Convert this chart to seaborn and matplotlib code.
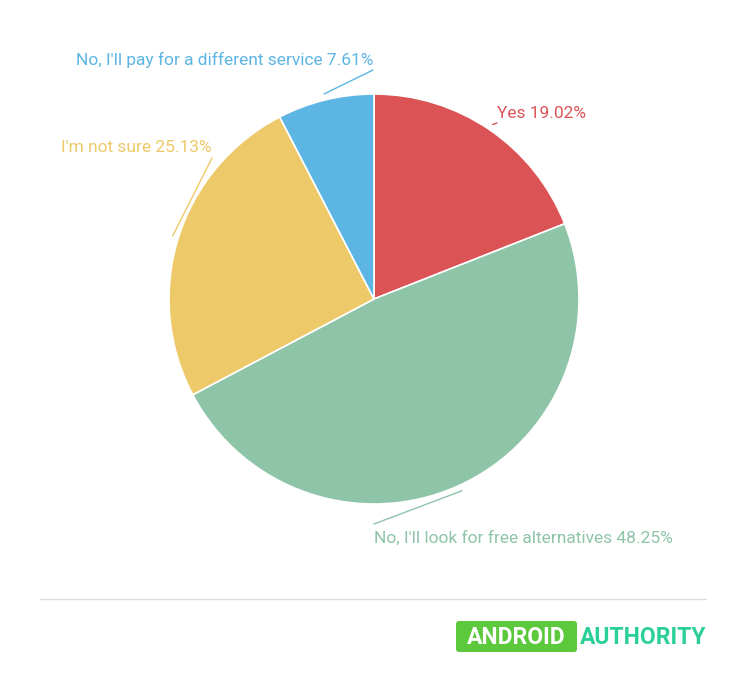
import numpy as np
import matplotlib.pyplot as plt
import seaborn as sns
from matplotlib.patches import FancyBboxPatch

sns.set_theme(style="white")
plt.rcParams['font.family'] = ['Roboto', 'DejaVu Sans']

labels = ["Yes", "No, I'll look for free alternatives", "I'm not sure",
          "No, I'll pay for a different service"]
shares = [19.02, 48.25, 25.13, 7.61]
colors = ["#dc5356", "#8ec4a8", "#edc96a", "#5db5e3"]

W, H = 747, 675
fig = plt.figure(figsize=(W / 100, H / 100), dpi=100)
ax = fig.add_axes([0, 0, 1, 1])
cx, cy, r = 374, 299, 205

# y axis is inverted (pixel coords), so start at -90 and go counterclockwise in data space
wedges, _ = ax.pie(shares, colors=colors, startangle=-90, counterclock=True,
                   center=(cx, cy), radius=r,
                   wedgeprops=dict(edgecolor="white", linewidth=1.2))
ax.set_xlim(0, W)
ax.set_ylim(H, 0)
ax.set_aspect("equal")
ax.axis("off")

# label anchors (pixel coords) per slice
label_pos = [(497, 113, "left"), (374, 538, "left"), (212, 148, "right"), (373, 60, "right")]
for w, lab, val, col, (tx, ty, ha) in zip(wedges, labels, shares, colors, label_pos):
    ang = np.deg2rad((w.theta1 + w.theta2) / 2)
    px, py = cx + (r + 6) * np.cos(ang), cy + (r + 6) * np.sin(ang)
    ey = ty + 10 if ty < cy else ty - 14
    ax.plot([px, tx], [py, ey], color=col, lw=1)
    ax.text(tx, ty, f"{lab} {val:.2f}%", color=col, fontsize=12.5,
            ha=ha, va="center")

ax.plot([40, 706], [599, 599], color="#dddddd", lw=1)
ax.add_patch(FancyBboxPatch((456, 621), 121, 31, boxstyle="round,pad=0,rounding_size=3",
                            facecolor="#5cc83c", edgecolor="none"))
ax.text(516.5, 637, "ANDROID", color="white", fontsize=16.5, fontweight="bold",
        ha="center", va="center")
ax.text(706, 637, "AUTHORITY", color="#2bd096", fontsize=16.5, fontweight="bold",
        ha="right", va="center")

fig.savefig("out.png", dpi=100, facecolor="white")
